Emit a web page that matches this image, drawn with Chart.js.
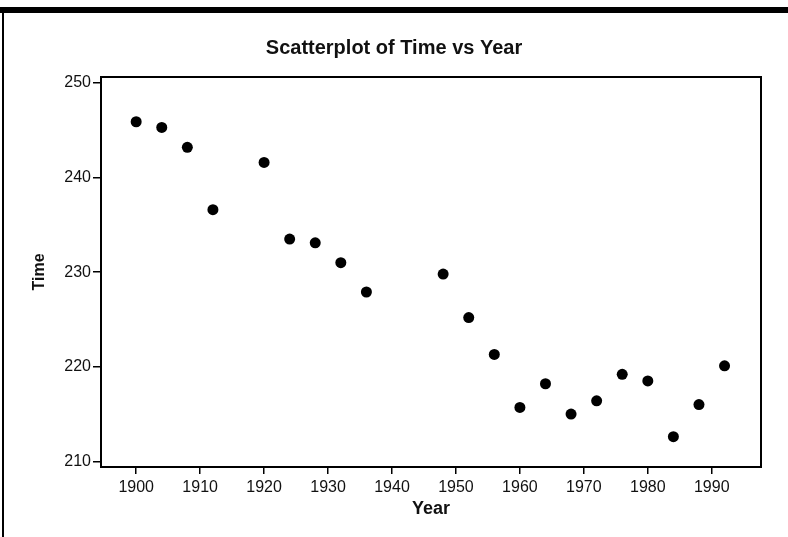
<!DOCTYPE html>
<html>
<head>
<meta charset="utf-8">
<script src="https://cdn.jsdelivr.net/npm/chart.js@4.4.0/dist/chart.umd.min.js"></script>
<style>
	body { margin: 0; background: #fff; }
	#plot { display: block; }
</style>
</head>
<body>
<canvas id="plot" width="788" height="537"></canvas>
<script>
	const years = [1900, 1904, 1908, 1912, 1920, 1924, 1928, 1932, 1936, 1948, 1952,
		1956, 1960, 1964, 1968, 1972, 1976, 1980, 1984, 1988, 1992];
	const times = [245.9, 245.3, 243.2, 236.6, 241.6, 233.5, 233.1, 231.0, 227.9, 229.8, 225.2,
		221.3, 215.7, 218.2, 215.0, 216.4, 219.2, 218.5, 212.6, 216.0, 220.1];
	const yearTicks = [1900, 1910, 1920, 1930, 1940, 1950, 1960, 1970, 1980, 1990];
	const timeTicks = [210, 220, 230, 240, 250];

	const points = years.map(function(y, i){
		return {x: y, y: times[i]};
	});

	// frame round the plot area and the page border
	const frame = {
		id: 'frame',
		beforeDraw: (chart) => {
			const {ctx, width, height} = chart;
			ctx.save();
			ctx.fillStyle = '#fff';
			ctx.fillRect(0, 0, width, height);
			ctx.fillStyle = '#000';
			ctx.fillRect(0, 7, width, 6);
			ctx.fillRect(2, 7, 2, height - 7);
			ctx.restore();
		},
		afterDraw: (chart) => {
			const {ctx, chartArea} = chart;
			ctx.save();
			ctx.strokeStyle = '#000';
			ctx.lineWidth = 2;
			ctx.strokeRect(chartArea.left, chartArea.top,
				chartArea.right - chartArea.left, chartArea.bottom - chartArea.top);
			ctx.restore();
		}
	};

	const tickFont = {family: 'Liberation Sans, Arial, sans-serif', size: 16};

	const config = {
		type: 'scatter',
		data: {
			datasets: [{
				data: points,
				backgroundColor: '#000',
				borderWidth: 0,
				pointRadius: 5.5
			}]
		},
		options: {
			responsive: false,
			animation: false,
			layout: {padding: 0},
			plugins: {
				legend: {display: false},
				tooltip: {enabled: false},
				title: {
					display: true,
					text: 'Scatterplot of Time vs Year',
					color: '#111',
					font: {family: 'Liberation Sans, Arial, sans-serif', size: 20, weight: 'bold'},
					padding: {top: 36, bottom: 17}
				}
			},
			scales: {
				x: {
					type: 'linear',
					min: 1894.5,
					max: 1997.7,
					afterBuildTicks: (axis) => { axis.ticks = yearTicks.map(v => ({value: v})); },
					afterFit: (axis) => { axis.height = 70; },
					grid: {drawOnChartArea: false, color: '#000', tickLength: 7, lineWidth: 1.5},
					border: {display: false},
					ticks: {color: '#111', font: tickFont, padding: 4, maxRotation: 0,
						callback: (v) => String(v)},
					title: {display: true, text: 'Year', color: '#111',
						font: {family: 'Liberation Sans, Arial, sans-serif', size: 18, weight: 'bold'},
						padding: {top: 0, bottom: 17}}
				},
				y: {
					min: 209.4,
					max: 250.63,
					afterBuildTicks: (axis) => { axis.ticks = timeTicks.map(v => ({value: v})); },
					afterFit: (axis) => { axis.width = 101; },
					grid: {drawOnChartArea: false, color: '#000', tickLength: 8, lineWidth: 1.5},
					border: {display: false},
					ticks: {color: '#111', font: tickFont, padding: 2},
					title: {display: true, text: 'Time', color: '#111',
						font: {family: 'Liberation Sans, Arial, sans-serif', size: 16, weight: 'bold'},
						padding: {top: 30, bottom: 0}}
				},
				// empty right margin so the title centres on the whole page
				yRight: {
					position: 'right',
					afterFit: (axis) => { axis.width = 27; },
					grid: {display: false},
					border: {display: false},
					ticks: {display: false}
				}
			}
		},
		plugins: [frame]
	};

	const myChart = new Chart(document.getElementById('plot'), config);
</script>
</body>
</html>
